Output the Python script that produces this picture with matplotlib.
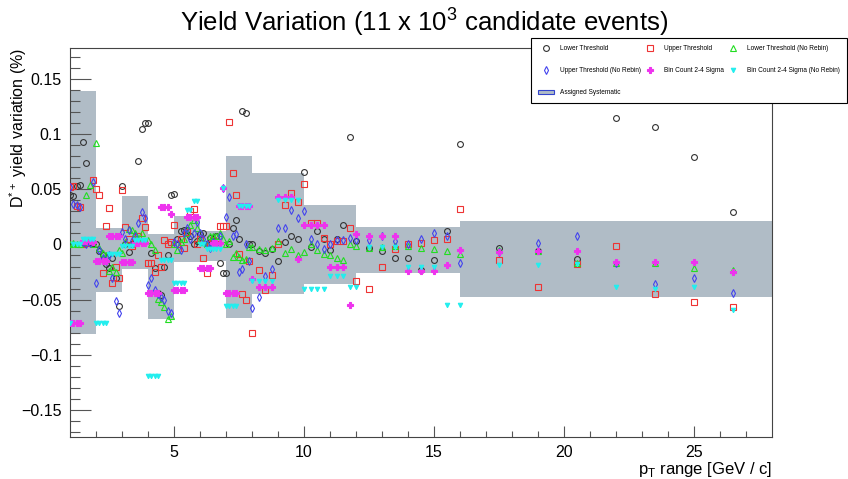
import numpy as np
import matplotlib.pyplot as plt
from matplotlib.patches import Patch

plt.rcParams['font.family'] = ['Liberation Sans', 'DejaVu Sans']

# pT bins and assigned systematic band
bin_edges = [1, 2, 3, 4, 5, 6, 7, 8, 10, 12, 16, 28]
syst_up = [0.139, 0.0145, 0.044, 0.009, 0.026, 0.012, 0.080, 0.065, 0.036, 0.016, 0.021]
syst_down = [-0.081, -0.043, -0.022, -0.068, -0.016, -0.015, -0.067, -0.045, -0.036, -0.026, -0.048]

# yield variation, 8 fit variations per pT bin
lower_thr = [
    [0.045, 0.044, 0.053, 0.054, 0.093, 0.074, 0.002, 0.001],
    [0.0, -0.006, -0.010, -0.018, -0.021, -0.012, -0.030, -0.056],
    [0.053, 0.0, -0.007, 0.0, 0.003, 0.076, 0.105, 0.110],
    [0.110, -0.008, -0.021, -0.044, -0.046, -0.020, -0.010, 0.045],
    [0.046, 0.005, 0.012, 0.013, 0.013, 0.008, 0.0, 0.003],
    [0.009, 0.010, 0.0, 0.006, 0.004, 0.008, -0.017, -0.026],
    [-0.026, 0.0, 0.015, 0.022, 0.005, 0.121, 0.119, 0.0],
    [0.0, -0.006, -0.008, -0.004, -0.015, 0.002, 0.008, 0.005],
    [0.066, -0.002, 0.012, 0.005, -0.005, 0.005, 0.018, 0.097],
    [0.003, -0.003, -0.006, -0.012, -0.012, -0.023, -0.014, 0.012],
    [0.091, -0.003, -0.006, -0.013, 0.115, 0.106, 0.079, 0.029],
]
upper_thr = [
    [0.052, 0.053, 0.035, 0.034, 0.0, 0.001, 0.003, 0.058],
    [0.050, 0.045, -0.026, 0.017, 0.033, -0.035, -0.020, -0.030],
    [0.049, 0.016, 0.005, -0.001, 0.003, 0.008, 0.024, 0.016],
    [-0.017, -0.017, -0.025, -0.010, -0.020, 0.004, 0.0, 0.002],
    [0.018, 0.0, 0.005, -0.003, 0.011, 0.030, 0.032, 0.0],
    [0.005, -0.012, -0.026, 0.0, 0.004, 0.0, 0.017, 0.017],
    [0.017, 0.111, 0.065, 0.045, -0.009, -0.045, -0.050, -0.015],
    [-0.080, -0.023, -0.041, -0.028, 0.0, 0.036, 0.047, 0.038],
    [0.055, 0.019, 0.019, 0.006, 0.0, 0.003, 0.003, 0.015],
    [-0.033, -0.040, -0.020, -0.004, 0.0, 0.001, 0.004, 0.005],
    [0.032, -0.014, -0.039, -0.018, -0.001, -0.045, -0.052, -0.057],
]
lower_thr_norebin = [
    [0.0, 0.001, 0.0, 0.0, 0.002, 0.045, 0.054, 0.0],
    [0.092, -0.003, -0.008, -0.010, -0.024, -0.020, -0.025, -0.005],
    [-0.008, 0.002, 0.014, 0.013, 0.010, 0.005, 0.010, 0.003],
    [0.004, 0.0, -0.005, -0.049, -0.052, -0.057, -0.068, -0.065],
    [0.0, -0.005, 0.002, 0.005, 0.010, 0.018, 0.022, 0.015],
    [0.004, 0.002, 0.0, 0.008, 0.008, 0.008, 0.010, 0.005],
    [0.0, 0.003, -0.011, -0.008, -0.011, -0.014, -0.013, -0.002],
    [-0.002, -0.004, -0.005, -0.003, 0.003, -0.008, -0.004, -0.010],
    [-0.007, 0.0, -0.005, -0.009, -0.010, -0.012, -0.014, 0.0],
    [-0.001, -0.003, -0.002, -0.001, -0.001, -0.003, -0.004, -0.006],
    [-0.009, -0.005, -0.006, -0.017, -0.017, -0.017, -0.021, -0.023],
]
upper_thr_norebin = [
    [0.052, 0.037, 0.036, 0.034, 0.002, 0.0, 0.001, 0.057],
    [-0.035, -0.005, -0.012, -0.015, -0.010, -0.030, -0.051, -0.062],
    [0.011, 0.005, 0.013, 0.003, 0.008, 0.019, 0.029, 0.024],
    [-0.037, -0.030, -0.041, -0.045, -0.048, -0.050, -0.060, -0.062],
    [0.002, 0.0, -0.005, 0.010, 0.015, 0.005, 0.010, 0.020],
    [0.010, 0.005, 0.0, -0.003, 0.002, 0.0, 0.008, 0.051],
    [0.025, 0.043, 0.008, 0.009, -0.025, -0.022, 0.0, -0.015],
    [-0.058, -0.048, -0.029, -0.022, 0.015, 0.015, 0.031, 0.024],
    [0.030, 0.005, 0.0, -0.004, 0.0, 0.004, 0.004, 0.006],
    [0.004, 0.004, 0.008, 0.003, 0.0, 0.005, 0.010, 0.008],
    [-0.017, -0.007, 0.001, 0.008, -0.017, -0.036, -0.030, -0.044],
]
bincount = [
    [-0.071, -0.071, -0.071, -0.071, 0.003, 0.003, 0.003, 0.002],
    [-0.015, -0.015, -0.015, -0.015, 0.008, 0.008, 0.008, 0.008],
    [-0.016, -0.016, -0.016, -0.016, 0.001, 0.001, 0.001, 0.001],
    [-0.044, -0.044, -0.044, -0.044, 0.034, 0.034, 0.034, 0.028],
    [-0.041, -0.041, -0.041, -0.041, 0.025, 0.025, 0.025, 0.025],
    [-0.021, -0.021, -0.021, -0.021, 0.001, 0.001, 0.001, 0.051],
    [-0.044, -0.044, -0.044, -0.044, 0.035, 0.035, 0.035, 0.035],
    [-0.031, -0.039, -0.039, -0.039, 0.043, 0.043, 0.043, -0.013],
    [0.018, 0.018, 0.018, 0.018, -0.020, -0.020, -0.020, -0.055],
    [0.009, 0.008, 0.008, 0.008, -0.024, -0.024, -0.024, -0.019],
    [-0.005, -0.007, -0.006, -0.006, -0.016, -0.016, -0.016, -0.025],
]
bincount_norebin = [
    [-0.071, 0.0, 0.0, 0.0, 0.005, 0.005, 0.005, 0.005],
    [-0.071, -0.071, -0.071, -0.071, -0.009, -0.009, -0.009, -0.009],
    [-0.001, -0.001, -0.001, -0.001, 0.004, 0.004, 0.004, 0.004],
    [-0.119, -0.119, -0.119, -0.119, -0.014, -0.014, -0.014, -0.014],
    [-0.035, -0.035, -0.035, -0.035, 0.031, 0.031, 0.039, 0.039],
    [0.0, 0.0, -0.004, -0.004, -0.004, -0.004, -0.004, 0.051],
    [-0.056, -0.056, -0.056, -0.056, 0.035, 0.035, 0.035, 0.035],
    [-0.033, -0.033, -0.033, -0.033, 0.040, 0.040, 0.040, 0.040],
    [-0.040, -0.040, -0.040, -0.040, -0.029, -0.029, -0.029, -0.039],
    [-0.039, -0.002, -0.002, -0.002, -0.020, -0.020, -0.020, -0.055],
    [-0.055, -0.019, -0.019, -0.018, -0.039, -0.040, -0.039, -0.059],
]

# variations are spread evenly across each pT bin
n_var = len(lower_thr[0])
x_pos = np.concatenate([np.linspace(lo, hi, n_var + 1)[:-1]
                        for lo, hi in zip(bin_edges[:-1], bin_edges[1:])])

fig = plt.figure(figsize=(8.48, 4.79), dpi=100)
ax = fig.add_axes([70/848, 1-437/479, 702/848, 389/479])

edges = np.array(bin_edges)
up = np.array(syst_up)
dn = np.array(syst_down)
ax.bar(edges[:-1], up - dn, width=np.diff(edges), bottom=dn, align='edge',
       color='#b0bcc6', edgecolor='none', zorder=1)

series = [
    (lower_thr, 'Lower Threshold', dict(marker='o', mfc='none', mec='#333333', ms=4.2)),
    (upper_thr, 'Upper Threshold', dict(marker='s', mfc='none', mec='#ee3333', ms=4.2)),
    (lower_thr_norebin, 'Lower Threshold (No Rebin)', dict(marker='^', mfc='none', mec='#22dd22', ms=4.4)),
    (upper_thr_norebin, 'Upper Threshold (No Rebin)', dict(marker='d', mfc='none', mec='#4444ee', ms=4.2)),
    (bincount, 'Bin Count 2-4 Sigma', dict(marker='P', mfc='#ee33ee', mec='#ee33ee', ms=3.8)),
    (bincount_norebin, 'Bin Count 2-4 Sigma (No Rebin)', dict(marker='v', mfc='#22eeee', mec='#22eeee', ms=3.2)),
]
handles = {}
for vals, label, style in series:
    y = np.array(vals).ravel()
    h, = ax.plot(x_pos, y, ls='none', mew=0.8, zorder=3, label=label, **style)
    handles[label] = h

ax.set_xlim(1, 28)
ax.set_ylim(-0.1745, 0.178)
ax.set_xticks([5, 10, 15, 20, 25])
ax.set_xticks(np.arange(2, 28, 1), minor=True)
ax.set_yticks([-0.15, -0.1, -0.05, 0, 0.05, 0.1, 0.15])
ax.set_yticklabels(['\u22120.15', '\u22120.1', '\u22120.05', '0', '0.05', '0.1', '0.15'])
ax.set_yticks(np.arange(-0.17, 0.18, 0.01), minor=True)
ax.tick_params(axis='y', which='major', direction='in', length=15, width=0.8,
               color='#555555', labelsize=11.5, pad=6)
ax.tick_params(axis='y', which='minor', direction='in', length=7.5, width=0.8, color='#555555')
ax.tick_params(axis='x', which='major', direction='in', length=8, width=0.8,
               color='#555555', labelsize=11.5, pad=6)
ax.tick_params(axis='x', which='minor', direction='in', length=4, width=0.8, color='#555555')
for s in ax.spines.values():
    s.set_color('#444444')
    s.set_linewidth(0.8)

ax.set_xlabel('p$_\\mathregular{T}$ range [GeV / c]', fontsize=12, loc='right', labelpad=-0.5)
ax.set_ylabel('D$^{\\mathregular{*+}}$ yield variation (%)', fontsize=11.5, loc='top')
ax.yaxis.set_label_coords(-0.058, 1.0)
fig.text(0.5, 0.955, 'Yield Variation (11 x 10$^\\mathregular{3}$ candidate events)',
         ha='center', va='center', fontsize=18.5)

syst_handle = Patch(facecolor='#b0bcc6', edgecolor='#3344cc', linewidth=0.8)
order = ['Lower Threshold', 'Upper Threshold (No Rebin)', None,
         'Upper Threshold', 'Bin Count 2-4 Sigma',
         'Lower Threshold (No Rebin)', 'Bin Count 2-4 Sigma (No Rebin)']
leg_handles = [handles[k] if k else syst_handle for k in order]
leg_labels = [k if k else 'Assigned Systematic' for k in order]
leg = fig.legend(leg_handles, leg_labels, ncol=3, loc='upper left',
                 bbox_to_anchor=(531/848, 1-101/479, 316/848, 63/479), mode='expand',
                 fontsize=4.7, frameon=True, fancybox=False, framealpha=1,
                 edgecolor='black', borderpad=1.1, labelspacing=2.3,
                 handlelength=2.4, handletextpad=0.9, columnspacing=1.0,
                 borderaxespad=0)
leg.get_frame().set_linewidth(0.8)

fig.savefig('out.png', dpi=100)
